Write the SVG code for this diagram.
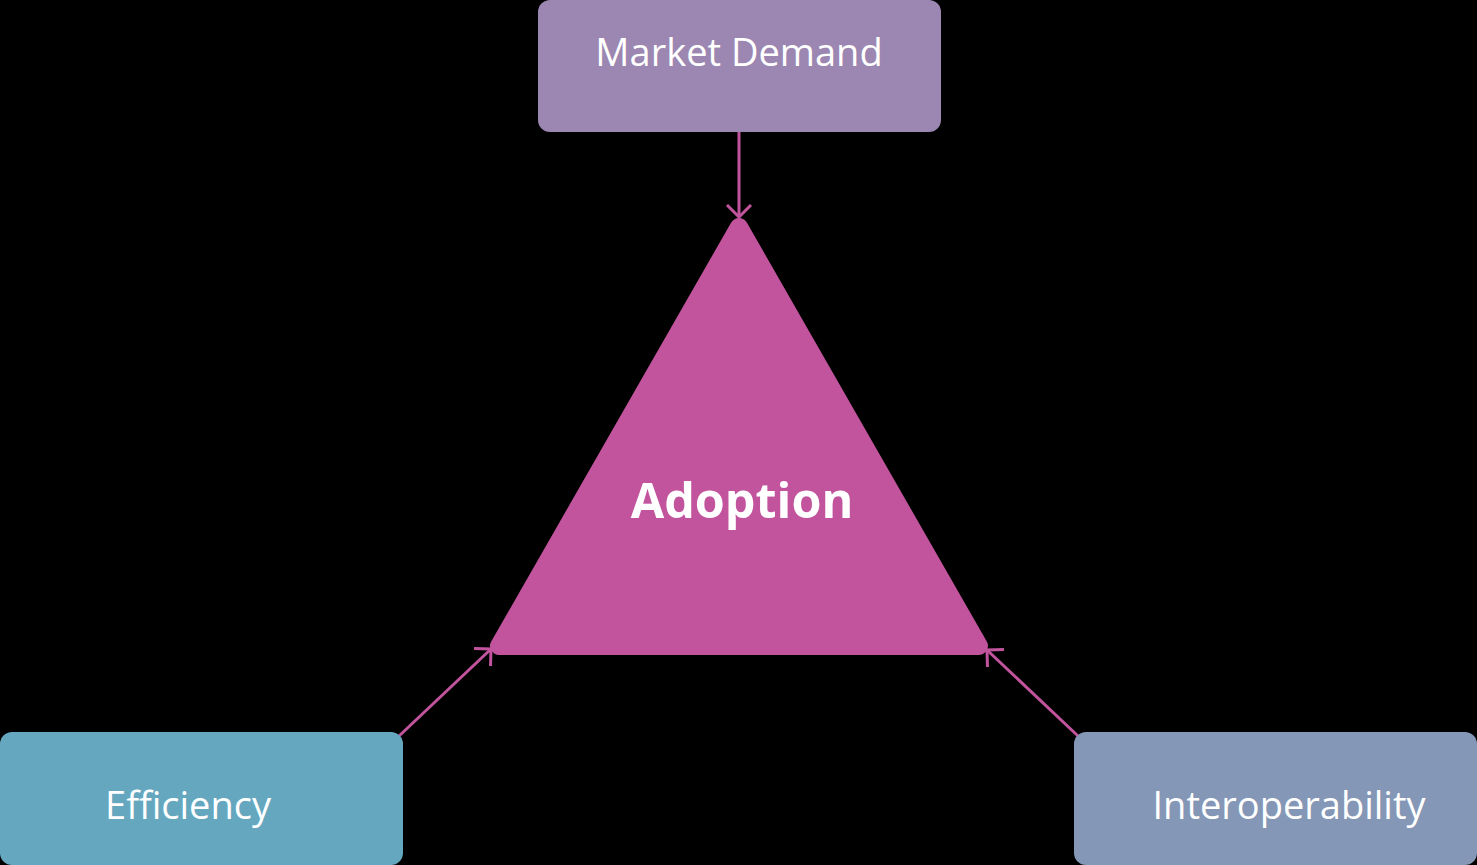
<svg xmlns="http://www.w3.org/2000/svg" width="1477" height="865" viewBox="0 0 1477 865">
  <style>
    .lbl { font-family: "Open Sans", "Liberation Sans", sans-serif; font-size: 38px; fill: #ffffff; text-anchor: middle; }
    .main { font-family: "Open Sans", "Liberation Sans", sans-serif; font-size: 48.5px; font-weight: 700; fill: #ffffff; text-anchor: middle; }
    .conn { stroke: #c2549e; stroke-width: 3; fill: none; }
  </style>
  <defs>
    <marker id="arrow" markerUnits="userSpaceOnUse" viewBox="0 0 15 28" refX="13.5" refY="14" markerWidth="15" markerHeight="28" orient="auto">
      <path d="M1.5,2 L13.5,14 L1.5,26" fill="none" stroke="#c2549e" stroke-width="3"/>
    </marker>
  </defs>
  <rect x="0" y="0" width="1477" height="865" fill="#000000"/>

  <g id="connectors">
    <line class="conn" x1="739" y1="132" x2="739" y2="217" marker-end="url(#arrow)"/>
    <line class="conn" x1="398" y1="737" x2="491" y2="649" marker-end="url(#arrow)"/>
    <line class="conn" x1="1078" y1="736" x2="987" y2="650" marker-end="url(#arrow)"/>
  </g>

  <g id="adoption">
    <polygon points="739,227 499,646 979,646" fill="#c2549e" stroke="#c2549e" stroke-width="18" stroke-linejoin="round"/>
    <text class="main" x="742" y="518">Adoption</text>
  </g>

  <g id="market-demand">
    <rect x="538" y="0" width="403" height="132" rx="12" fill="#9c87b2"/>
    <text class="lbl" x="739" y="66">Market Demand</text>
  </g>

  <g id="efficiency">
    <rect x="0" y="732" width="403" height="133" rx="12" fill="#64a7bf"/>
    <text class="lbl" x="188" y="819">Efficiency</text>
  </g>

  <g id="interoperability">
    <rect x="1074" y="732" width="403" height="133" rx="12" fill="#8497b6"/>
    <text class="lbl" x="1289" y="819">Interoperability</text>
  </g>
</svg>
